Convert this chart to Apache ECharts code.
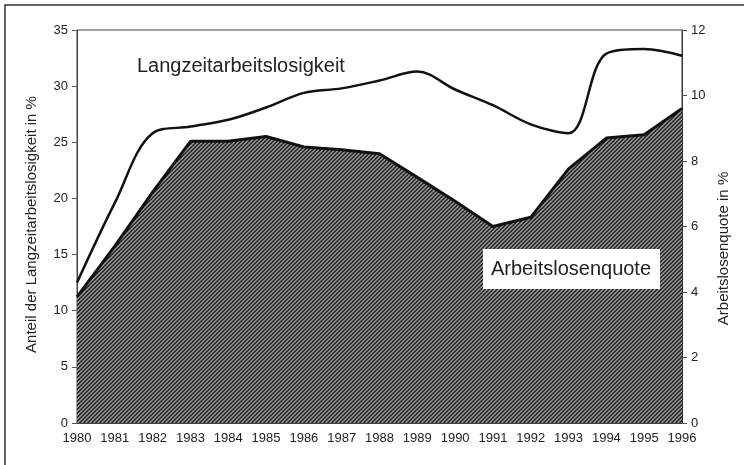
<!DOCTYPE html>
<html>
<head>
<meta charset="utf-8">
<script src="https://cdn.jsdelivr.net/npm/echarts@6/dist/echarts.min.js"></script>
<style>
  html, body { margin: 0; padding: 0; background: #fff; }
  #chart { width: 744px; height: 465px; }
</style>
</head>
<body>
<div id="chart"></div>
<script>
// Jahre (x-Achse)
const years = ["1980", "1981", "1982", "1983", "1984", "1985", "1986", "1987", "1988",
  "1989", "1990", "1991", "1992", "1993", "1994", "1995", "1996"];
// Anteil der Langzeitarbeitslosigkeit in % (linke Achse)
const langzeit = [12.5, 19.6, 25.8, 26.4, 27.0, 28.1, 29.4, 29.8, 30.5,
  31.3, 29.7, 28.3, 26.6, 25.8, 32.9, 33.3, 32.7];
// Arbeitslosenquote in % (rechte Achse)
const quote = [3.85, 5.4, 7.05, 8.6, 8.6, 8.75, 8.43, 8.34, 8.22,
  7.5, 6.77, 6.0, 6.28, 7.76, 8.7, 8.8, 9.6];
// Achsenbeschriftungen
const leftTicks = [0, 5, 10, 15, 20, 25, 30, 35];
const rightTicks = [0, 2, 4, 6, 8, 10, 12];

const font = "Liberation Sans";

// Schraffur fuer die Flaeche
function hatch() {
  const c = document.createElement("canvas");
  c.width = 4;
  c.height = 4;
  const ctx = c.getContext("2d");
  ctx.fillStyle = "#2c2c2c";
  ctx.fillRect(0, 0, 4, 4);
  ctx.fillStyle = "#8e8e8e";
  for (let i = 0; i < 4; i++) {
    ctx.fillRect(i, 3 - i, 1, 1);
    ctx.fillRect((i + 1) % 4, 3 - i, 1, 1);
  }
  return c;
}

const chart = echarts.init(document.getElementById("chart"));

const option = {
  animation: false,
  backgroundColor: "#fff",
  textStyle: { fontFamily: font },
  grid: {
    left: 77,
    right: 62,
    top: 30,
    bottom: 42,
    show: true,
    borderColor: "#444",
    borderWidth: 1,
  },
  xAxis: {
    type: "category",
    data: years,
    boundaryGap: false,
    axisLine: { lineStyle: { color: "#222", width: 1.5 } },
    axisTick: { inside: true, length: 4, lineStyle: { color: "#333" } },
    axisLabel: { color: "#222", fontSize: 13, margin: 9, fontFamily: font },
    splitLine: { show: false },
  },
  yAxis: [
    {
      type: "value",
      min: 0,
      max: leftTicks[leftTicks.length - 1],
      interval: leftTicks[1] - leftTicks[0],
      name: "Anteil der Langzeitarbeitslosigkeit in %",
      nameLocation: "middle",
      nameGap: 38,
      nameTextStyle: { fontSize: 15, color: "#222", fontFamily: font, padding: [0, 0, 0, 4] },
      axisLine: { show: true, lineStyle: { color: "#444" } },
      axisTick: { show: true, length: 5, lineStyle: { color: "#555" } },
      axisLabel: { color: "#222", fontSize: 13, margin: 9, fontFamily: font },
      splitLine: { show: false },
    },
    {
      type: "value",
      min: 0,
      max: rightTicks[rightTicks.length - 1],
      interval: rightTicks[1] - rightTicks[0],
      name: "Arbeitslosenquote in %",
      nameLocation: "middle",
      nameGap: 34,
      nameRotate: 90,
      nameTextStyle: { fontSize: 15, color: "#222", fontFamily: font, padding: [0, 44, 0, 0] },
      axisLine: { show: true, lineStyle: { color: "#333" } },
      axisTick: { show: true, length: 5, lineStyle: { color: "#555" } },
      axisLabel: { color: "#222", fontSize: 13, margin: 9, fontFamily: font },
      splitLine: { show: false },
    },
  ],
  series: [
    {
      name: "Arbeitslosenquote",
      type: "line",
      yAxisIndex: 1,
      data: quote,
      symbol: "none",
      lineStyle: { color: "#111", width: 3 },
      areaStyle: { color: { image: hatch(), repeat: "repeat" }, opacity: 1 },
      z: 2,
    },
    {
      name: "Langzeitarbeitslosigkeit",
      type: "line",
      yAxisIndex: 0,
      data: langzeit,
      smooth: 0.35,
      symbol: "none",
      lineStyle: { color: "#111", width: 2.5 },
      z: 3,
    },
  ],
  graphic: [
    // Rahmen
    {
      type: "polyline",
      shape: { points: [[5, 470], [5, 5], [750, 5]] },
      style: { stroke: "#333", lineWidth: 1.5, fill: null },
      silent: true,
    },
    {
      type: "text",
      x: 137,
      y: 56,
      style: { text: "Langzeitarbeitslosigkeit", font: "20px " + font, fill: "#222" },
      z: 10,
    },
    {
      type: "rect",
      shape: { x: 483, y: 249, width: 177, height: 40 },
      style: { fill: "#fff", stroke: null },
      z: 10,
    },
    {
      type: "text",
      x: 571,
      y: 269,
      style: {
        text: "Arbeitslosenquote",
        font: "20px " + font,
        fill: "#222",
        align: "center",
        verticalAlign: "middle",
      },
      z: 11,
    },
  ],
};

chart.setOption(option);
</script>
</body>
</html>
